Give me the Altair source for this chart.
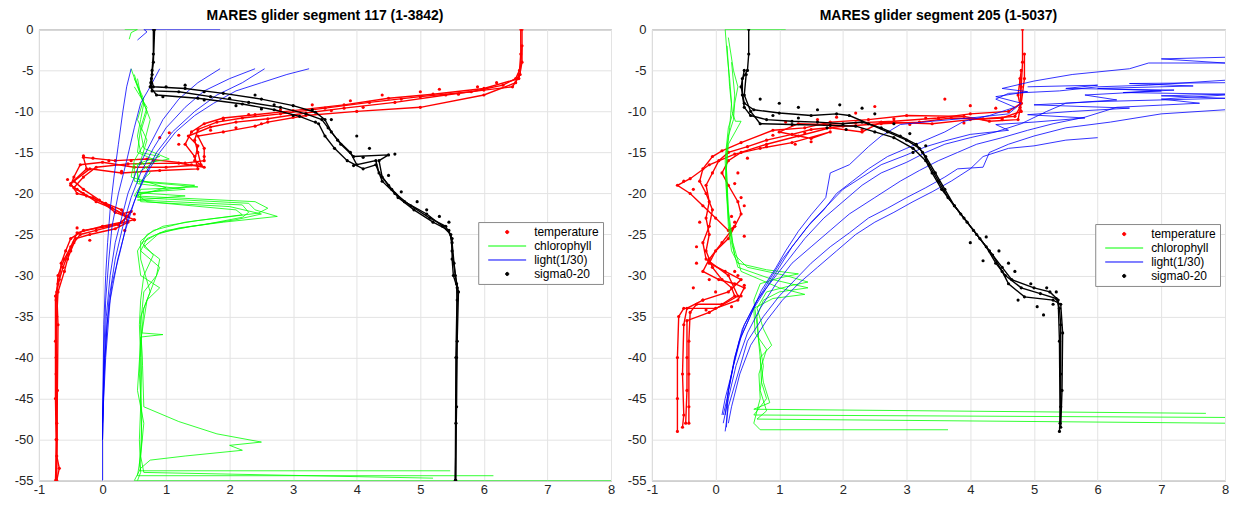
import altair as alt
import pandas as pd

TITLE_117 = "MARES glider segment 117 (1-3842)"
TITLE_205 = "MARES glider segment 205 (1-5037)"
SERIES = ["temperature", "chlorophyll", "light(1/30)", "sigma0-20"]
COLORS = ["#ff0000", "#00ff00", "#0000ff", "#000000"]
X_TICKS = [-1, 0, 1, 2, 3, 4, 5, 6, 7, 8]
Y_TICKS = [0, -5, -10, -15, -20, -25, -30, -35, -40, -45, -50, -55]

# ---------------- segment 117 : (x value, depth) per profile ----------------
TEMP_117_A = [(6.58, 0), (6.58, -3), (6.56, -5), (6.5, -6), (6.3, -6.8), (5.8, -7.6), (5.0, -8.2), (4.2, -8.9),
              (3.5, -9.6), (2.8, -10.3), (2.2, -10.8), (1.8, -11.3), (1.5, -12.2), (1.45, -13.5), (1.5, -15),
              (1.55, -16.5), (1.0, -16.8), (0.5, -16.8), (0.0, -16.2), (-0.35, -16.5), (-0.45, -18), (-0.5, -19),
              (-0.3, -20), (-0.1, -21), (0.15, -21.8), (0.4, -22.8), (0.25, -23.8), (-0.1, -24.5), (-0.35, -25),
              (-0.45, -26), (-0.55, -27.5), (-0.62, -29), (-0.7, -31), (-0.73, -33), (-0.73, -40), (-0.72, -48),
              (-0.72, -52), (-0.68, -53.5), (-0.72, -55)]
TEMP_117_B = [(6.6, 0), (6.6, -4), (6.55, -6), (6.0, -7.2), (5.2, -7.9), (4.5, -8.4), (3.8, -9.2), (3.0, -9.9),
              (2.4, -10.4), (1.9, -10.8), (1.6, -11.5), (1.4, -12.5), (1.3, -14), (1.45, -15.5), (1.5, -17),
              (0.9, -17.2), (0.3, -17.5), (-0.2, -17), (-0.45, -18.5), (-0.3, -19.5), (-0.05, -20.8), (0.2, -22.3),
              (0.5, -23.2), (0.1, -24), (-0.3, -24.5), (-0.5, -25.5), (-0.58, -27), (-0.65, -28.5), (-0.68, -30.5),
              (-0.74, -32.5), (-0.74, -38), (-0.74, -45), (-0.73, -50), (-0.73, -55)]
TEMP_117_C = [(6.55, -5.5), (6.5, -6.5), (6.0, -8), (5.0, -9.5), (4.0, -10), (3.2, -10.5), (2.6, -11.3), (2.4, -11.8),
              (1.9, -12.5), (1.5, -13), (1.6, -14.5), (1.6, -16), (1.3, -16.3), (0.7, -15.8), (0.2, -16),
              (-0.3, -15.6), (-0.25, -17), (-0.5, -18.8), (-0.4, -20), (-0.15, -20.5), (0.1, -21.5), (0.3, -22.5),
              (0.45, -22.2), (0.3, -23.5), (0.0, -24), (-0.4, -24.8), (-0.5, -26.5), (-0.6, -28), (-0.7, -30),
              (-0.72, -32), (-0.7, -36), (-0.71, -44), (-0.72, -55)]
TEMP_117_D = [(6.6, -2), (6.57, -5.5), (6.45, -7), (6.0, -7.4), (5.4, -8.0), (4.6, -8.9), (3.8, -9.6), (3.2, -10.2),
              (2.6, -10.9), (2.1, -11.3), (1.7, -11.9), (1.35, -13), (1.5, -14.2), (1.45, -16), (1.6, -16.8),
              (1.2, -16.3), (0.4, -16.4), (-0.1, -16.8), (-0.3, -18), (-0.45, -19.3), (-0.25, -20.3), (0.05, -21.2),
              (0.3, -22), (0.4, -23.5), (0.2, -24.3), (-0.2, -25), (-0.42, -25.5), (-0.5, -27), (-0.55, -28),
              (-0.6, -29.5), (-0.7, -32), (-0.72, -35), (-0.73, -42), (-0.72, -50), (-0.74, -55)]
TEMP_117_DOTS = [(6.2, -6.5), (5.9, -7.0), (5.6, -7.9), (5.3, -7.3), (5.0, -7.6), (4.7, -8.5), (4.4, -8.0),
                 (4.1, -9.5), (3.9, -8.7), (3.6, -9.9), (3.3, -9.2), (3.0, -10.7), (2.8, -9.8), (2.5, -11.5),
                 (2.3, -10.4), (2.1, -12.0), (1.9, -11.0), (1.7, -12.3), (1.2, -12.9), (1.05, -12.6), (0.9, -13.2),
                 (0.8, -16.0), (0.6, -16.3), (0.45, -16.0), (0.3, -17.3), (1.2, -14.0), (1.6, -15.5), (1.4, -16.5),
                 (-0.3, -15.4), (-0.15, -15.7), (0.1, -16.0), (-0.55, -18.3), (-0.4, -19.5), (0.5, -22.5),
                 (0.5, -23.2), (0.35, -24.5), (-0.2, -25.7), (-0.4, -24.2)]

SIG_117_A = [(0.8, 0), (0.8, -3), (0.78, -5), (0.76, -6.5), (0.78, -7.5), (1.2, -7.6), (1.7, -8.2), (2.3, -8.9),
             (2.8, -9.5), (3.2, -10.3), (3.45, -11), (3.55, -12), (3.7, -13.5), (3.9, -15), (4.0, -16.5),
             (4.3, -16), (4.35, -17.5), (4.5, -19), (4.65, -20.5), (4.9, -22), (5.2, -23.5), (5.45, -24.5),
             (5.5, -26), (5.53, -28.5), (5.57, -31), (5.58, -33), (5.57, -40), (5.56, -48), (5.56, -55)]
SIG_117_B = [(0.82, 0), (0.8, -4), (0.77, -6), (0.8, -7), (1.3, -7.2), (1.9, -7.8), (2.5, -8.5), (3.0, -9.3),
             (3.35, -10.1), (3.5, -11), (3.6, -12.5), (3.75, -14), (3.95, -15.5), (4.5, -15.3), (4.35, -16),
             (4.4, -18), (4.55, -19.5), (4.75, -21), (5.1, -22.5), (5.35, -24), (5.48, -25), (5.5, -27),
             (5.55, -30), (5.6, -32), (5.58, -38), (5.57, -46), (5.55, -55)]
SIG_117_C = [(0.78, -5.5), (0.75, -7), (0.85, -8), (1.5, -8.4), (2.2, -9.1), (2.7, -9.8), (3.1, -10.6),
             (3.4, -11.5), (3.5, -13), (3.65, -14.5), (3.85, -16), (4.1, -17), (4.3, -16.5), (4.4, -18.5),
             (4.6, -20), (4.85, -21.5), (5.15, -23), (5.4, -24), (5.5, -25.5), (5.5, -28), (5.52, -30),
             (5.58, -31.5), (5.56, -40), (5.55, -55)]
SIG_117_DOTS = [(1.0, -7.0), (1.3, -6.8), (1.6, -7.6), (2.0, -8.4), (2.4, -8.0), (2.7, -9.2), (3.0, -10.5),
                (3.3, -9.8), (3.6, -11.0), (4.0, -13.0), (4.2, -14.5), (4.6, -15.2), (4.1, -15.6), (3.95, -16.6),
                (4.5, -17.8), (4.7, -19.8), (4.95, -21.0), (5.1, -22.0), (5.3, -22.8), (5.45, -23.5),
                (0.95, -8.2), (1.6, -8.6), (2.1, -9.3), (2.5, -9.7), (3.35, -11.3)]

CHL_117_A = [(0.45, -4.8), (0.55, -7), (0.65, -9), (0.6, -11), (0.55, -13), (0.6, -15), (0.9, -15.5),
             (0.5, -16.5), (0.5, -18.5), (1.5, -19.2), (0.6, -19.5), (0.55, -20.5), (2.3, -21.2), (2.4, -22),
             (2.75, -22.8), (1.9, -23.5), (1.2, -24.2), (0.85, -25), (0.62, -26), (0.8, -27.5), (0.65, -30),
             (0.6, -33), (0.58, -36), (0.6, -40), (0.6, -45), (0.62, -50), (0.58, -53), (0.6, -53.8),
             (5.47, -53.8)]
CHL_117_B = [(0.5, -5.5), (0.6, -8), (0.7, -10), (0.6, -12.5), (0.65, -14.5), (1.05, -15.8), (0.55, -16.5),
             (0.55, -18.8), (1.3, -19.5), (0.55, -19.9), (1.3, -20.3), (0.55, -20.8), (2.2, -21.4), (2.3, -22.3),
             (2.2, -22.9), (1.6, -23.8), (1.0, -24.5), (0.7, -25.5), (0.6, -27), (0.9, -29), (0.8, -31),
             (0.65, -34), (0.62, -37), (0.95, -37.2), (0.6, -37.5), (0.58, -42), (0.62, -47), (0.6, -52),
             (0.55, -54.4), (6.15, -54.4)]
CHL_117_C = [(0.5, -6), (0.65, -8.5), (0.55, -11), (0.7, -13.5), (0.6, -16), (0.75, -17.5), (0.6, -18.5),
             (1.45, -19), (0.6, -20), (0.6, -21), (2.0, -21.6), (2.5, -22.5), (2.1, -23.2), (1.4, -24),
             (0.9, -24.8), (0.65, -26.5), (0.9, -28), (0.85, -30), (0.65, -32), (0.6, -36), (0.63, -41),
             (0.65, -46), (1.2, -47.8), (1.8, -49.3), (2.5, -50.3), (2.0, -50.7), (2.2, -51.3), (1.3, -52),
             (0.75, -52.5), (0.6, -53.5), (0.5, -55), (8.0, -55)]
CHL_117_D = [(0.5, -7), (0.7, -9.5), (0.6, -12), (0.55, -15), (0.85, -16), (0.55, -17.5), (0.6, -19),
             (0.5, -20.3), (2.4, -21), (2.6, -21.8), (2.45, -22.4), (1.5, -23.3), (0.95, -24), (0.7, -25),
             (0.55, -27), (0.6, -30), (0.9, -31.5), (0.7, -33), (0.6, -38), (0.55, -44), (0.65, -48),
             (0.6, -52), (0.65, -54), (5.2, -54.7)]
CHL_117_E = [(0.55, -6), (0.6, -8), (0.75, -11), (0.65, -14), (0.5, -16), (0.45, -18), (1.0, -19.3),
             (0.55, -20.2), (0.7, -21), (2.1, -22), (2.2, -22.6), (1.3, -23.5), (0.8, -24.5), (0.6, -25.8),
             (0.6, -28), (0.75, -32), (0.6, -35), (0.62, -40), (0.6, -46), (0.58, -50), (0.6, -54), (0.55, -55)]
CHL_117_F = [(0.35, 0), (0.55, 0), (0.45, -0.4), (0.42, -1.2)]

LIGHT_117_A = [(0.45, -4.8), (0.38, -7), (0.32, -10), (0.25, -14), (0.18, -18), (0.12, -22), (0.08, -26),
               (0.05, -30), (0.02, -36), (0.01, -42), (0.0, -48), (0.0, -55)]
LIGHT_117_B = [(0.9, -4.8), (0.75, -7), (0.6, -9), (0.5, -12), (0.38, -16), (0.25, -20), (0.15, -24),
               (0.1, -28), (0.05, -33), (0.02, -40), (0.0, -50)]
LIGHT_117_C = [(1.85, -4.8), (1.5, -6.5), (1.2, -8.5), (0.95, -11), (0.75, -14), (0.55, -17), (0.4, -20),
               (0.3, -23), (0.2, -26), (0.12, -30), (0.06, -35), (0.02, -42), (0.0, -50)]
LIGHT_117_D = [(2.4, -4.8), (2.0, -6), (1.6, -7.5), (1.3, -9.5), (1.0, -12), (0.8, -14.5), (0.6, -17.5),
               (0.45, -20.5), (0.32, -24), (0.2, -28), (0.1, -33), (0.04, -40), (0.0, -48)]
LIGHT_117_E = [(2.55, -4.8), (2.2, -6.5), (1.8, -8), (1.45, -10), (1.1, -12.5), (0.85, -15), (0.65, -18),
               (0.5, -21), (0.36, -24.5), (0.24, -28), (0.12, -33), (0.05, -40), (0.0, -48)]
LIGHT_117_F = [(3.25, -4.8), (2.9, -5.5), (2.5, -6.5), (2.1, -7.5), (1.75, -9), (1.45, -10.5), (1.15, -12.5),
               (0.9, -15), (0.7, -17.5), (0.55, -20), (0.4, -23), (0.28, -27), (0.15, -31), (0.07, -36),
               (0.02, -42), (0.0, -50)]
LIGHT_117_G = [(0.55, -1.3), (0.7, -0.3), (0.65, 0), (1.85, 0)]

# ---------------- segment 205 ----------------
TEMP_205_A = [(4.82, 0), (4.82, -4), (4.8, -7), (4.78, -9.5), (4.7, -10.6), (4.2, -10.9), (3.7, -10.8),
              (3.2, -11.3), (2.6, -11.5), (2.0, -11.8), (1.5, -12.2), (1.2, -12.8), (0.8, -13.5), (0.5, -14.3),
              (0.2, -15), (0.05, -16), (-0.05, -17.5), (-0.15, -19), (-0.1, -21), (-0.15, -23), (-0.1, -25),
              (-0.15, -27), (-0.05, -29), (0.1, -30.5), (0.25, -31.5), (0.3, -32.5), (0.1, -33.5), (-0.3, -33.5),
              (-0.4, -34.5), (-0.42, -38), (-0.42, -42), (-0.42, -46), (-0.42, -48)]
TEMP_205_B = [(4.85, -3), (4.85, -6), (4.8, -9), (4.6, -10), (4.0, -10.3), (3.5, -10.8), (2.8, -11.2),
              (2.2, -11.4), (1.7, -11.6), (1.3, -11.5), (1.0, -12.5), (1.5, -13.3), (1.8, -12.5), (1.2, -13.8),
              (0.7, -14.5), (0.3, -15.2), (-0.1, -16.5), (-0.4, -18.2), (-0.6, -19), (-0.4, -20), (-0.2, -21.5),
              (0.0, -23), (0.2, -24.5), (0.3, -24), (0.1, -26), (-0.1, -28), (-0.2, -29.5), (0.05, -30.5),
              (0.3, -31), (0.45, -31.5), (0.35, -33), (0.0, -34), (-0.5, -34), (-0.58, -35), (-0.6, -40),
              (-0.6, -45), (-0.6, -49)]
TEMP_205_C = [(4.8, -5), (4.75, -8), (4.8, -10), (4.5, -10.8), (4.0, -11), (3.4, -11.5), (2.6, -11.3),
              (2.3, -12.5), (1.8, -12), (1.3, -13), (0.8, -14), (0.4, -15), (0.2, -16), (0.1, -17.5), (0.2, -19),
              (0.35, -21), (0.4, -22.5), (0.3, -24), (0.2, -25.5), (0.0, -27), (-0.1, -28.5), (0.15, -29.5),
              (0.4, -30.5), (0.2, -32), (-0.2, -33), (-0.45, -34), (-0.5, -36), (-0.52, -42), (-0.5, -47),
              (-0.52, -48.5)]
TEMP_205_D = [(4.78, -6), (4.8, -9), (4.75, -11), (4.3, -11.2), (3.9, -10.6), (3.0, -10.5), (2.4, -11),
              (1.8, -11.3), (1.4, -12), (0.9, -12.3), (0.4, -13.8), (0.1, -14.8), (-0.05, -15.5), (-0.2, -17),
              (-0.25, -18.5), (-0.15, -20), (-0.05, -22), (-0.1, -24), (-0.2, -26), (-0.15, -28), (0.2, -30),
              (0.35, -32.5), (-0.1, -34.5), (-0.45, -35.5), (-0.45, -40), (-0.45, -44), (-0.47, -48)]
TEMP_205_DOTS = [(4.4, -9.6), (4.0, -9.3), (3.6, -8.5), (3.3, -10.8), (3.05, -11.6), (2.5, -9.4), (2.2, -10.2),
                 (1.9, -10.7), (1.6, -11.0), (1.4, -12.6), (1.1, -11.3), (0.9, -12.9), (1.5, -13.7), (1.25, -14.0),
                 (0.8, -14.3), (0.5, -15.7), (0.35, -17.5), (0.3, -18.8), (-0.35, -19.5), (-0.5, -18.5),
                 (0.4, -20.5), (0.45, -21.5), (0.25, -22.8), (0.3, -23.5), (0.45, -25.2), (-0.25, -23.5),
                 (-0.3, -26.5), (-0.3, -28.5), (0.3, -29.5), (0.4, -32.5), (0.25, -33.8), (-0.15, -34.2),
                 (-0.2, -33.0), (0.0, -32.0), (-0.35, -31.5), (-0.1, -30.5), (0.35, -30.0), (0.45, -31.2),
                 (2.8, -10.9), (3.9, -11.4), (4.5, -11.0), (2.3, -12.2)]

SIG_205_A = [(0.52, 0), (0.52, -3), (0.5, -5), (0.42, -6), (0.42, -8), (0.45, -9.5), (0.55, -10.5), (0.8, -11),
             (1.2, -11.2), (1.6, -11.3), (2.0, -11.5), (2.3, -11.3), (2.6, -12), (2.9, -13), (3.15, -14),
             (3.25, -15), (3.35, -16.5), (3.5, -18.5), (3.65, -20.5), (3.85, -22.5), (4.05, -24.5), (4.25, -26.5),
             (4.4, -28.5), (4.55, -30), (4.8, -31.5), (5.1, -32.2), (5.35, -32.8), (5.4, -34), (5.42, -36),
             (5.42, -42), (5.42, -46), (5.4, -49)]
SIG_205_B = [(0.45, -5), (0.4, -7), (0.45, -9), (0.6, -9.8), (1.0, -10.2), (1.5, -10.5), (1.9, -10.3),
             (2.1, -10.5), (2.4, -11.5), (2.7, -12.5), (3.0, -13.5), (3.2, -14.5), (3.3, -15.5), (3.45, -17.5),
             (3.6, -19.5), (3.75, -21.5), (3.95, -23.5), (4.15, -25.5), (4.35, -27.5), (4.5, -29.5), (4.6, -31),
             (4.85, -32.6), (5.3, -33), (5.42, -33.5), (5.45, -37), (5.44, -44), (5.42, -48.5)]
SIG_205_C = [(0.48, -5.5), (0.45, -8), (0.55, -10), (0.7, -11.5), (1.2, -11.6), (1.8, -11.7), (2.2, -11.8),
             (2.5, -12.5), (2.8, -13.2), (3.1, -14.5), (3.3, -16), (3.4, -17.5), (3.55, -19.5), (3.75, -21.5),
             (3.9, -23), (4.1, -25), (4.3, -27), (4.5, -29), (4.65, -30.5), (5.0, -31.5), (5.25, -32),
             (5.38, -33), (5.4, -38), (5.41, -48)]
SIG_205_DOTS = [(0.7, -8.5), (1.0, -9.0), (1.3, -9.5), (1.6, -9.8), (1.95, -9.2), (2.3, -9.6), (2.5, -10.3),
                (2.8, -11.5), (3.05, -12.7), (0.9, -10.5), (1.3, -10.8), (1.75, -12.0), (2.05, -12.2),
                (3.3, -14.2), (3.1, -15.0), (4.25, -25.3), (4.45, -27.0), (4.6, -28.5), (4.7, -29.5),
                (4.0, -26.0), (4.2, -28.2), (4.95, -31.0), (5.2, -31.5), (5.3, -33.5), (4.75, -33.0),
                (5.05, -33.8), (5.15, -34.8), (5.35, -32.0)]

CHL_205_A = [(0.15, 0), (0.18, -3), (0.22, -6), (0.25, -9), (0.22, -12), (0.18, -15), (0.16, -18), (0.18, -21),
             (0.2, -24), (0.25, -27), (0.35, -28.5), (0.8, -29.3), (1.3, -29.8), (1.0, -30.3), (0.7, -31),
             (0.6, -33), (0.65, -36), (0.7, -40), (0.75, -43), (0.85, -45.5), (0.6, -46.3), (7.7, -46.8)]
CHL_205_B = [(0.2, -1), (0.28, -5), (0.35, -7), (0.3, -9), (0.28, -11), (0.2, -13), (0.15, -16), (0.17, -20),
             (0.22, -24), (0.3, -27.5), (0.5, -29), (1.1, -30), (1.45, -30.8), (1.2, -31.2), (0.8, -32),
             (0.65, -34), (0.75, -36.5), (0.88, -38.5), (0.7, -40), (0.72, -43), (0.8, -45), (0.6, -47),
             (8.0, -47.3)]
CHL_205_C = [(0.25, -4), (0.3, -8), (0.28, -10), (0.2, -12), (0.16, -15), (0.18, -19), (0.2, -23), (0.25, -26),
             (0.35, -29), (0.9, -30.5), (1.45, -31.5), (1.0, -32), (0.75, -33), (0.65, -35), (0.68, -38),
             (0.75, -41), (0.7, -44), (0.8, -46.5), (0.65, -47.5), (8.0, -48)]
CHL_205_D = [(0.18, -2), (0.22, -7), (0.26, -10), (0.31, -11.2), (0.4, -11.2), (0.2, -14), (0.17, -17),
             (0.2, -22), (0.27, -26), (0.4, -29.5), (1.0, -31.5), (1.4, -32.3), (0.9, -32.8), (0.6, -34),
             (0.62, -37), (0.8, -39), (0.68, -42), (0.7, -45), (0.6, -48), (0.7, -48.8), (3.65, -48.8)]
CHL_205_E = [(0.15, 0), (1.1, 0)]

LIGHT_205_A = [(8.0, -3.4), (7.0, -3.6), (8.0, -4.1), (6.8, -4.1), (6.5, -4.8), (5.6, -5.5), (5.0, -6.3),
               (4.5, -7.2), (4.9, -7.6), (4.4, -8.2), (4.8, -9.0), (4.6, -10.3), (4.0, -10.8), (3.4, -11.2),
               (2.9, -11.6), (2.6, -13), (2.4, -14.3), (2.1, -16.5), (1.8, -17.5), (1.73, -20.5), (1.5, -22.6),
               (1.3, -24.6), (1.1, -27), (0.95, -29), (0.72, -31.8), (0.54, -35), (0.37, -38), (0.25, -42),
               (0.15, -45), (0.1, -47)]
LIGHT_205_B = [(8.0, -6.5), (6.5, -6.6), (7.5, -6.9), (6.0, -7.2), (7.0, -7.5), (5.8, -8.0), (6.3, -8.6),
               (5.5, -9.0), (5.2, -10), (4.8, -11.5), (4.4, -12.5), (4.0, -13.2), (3.6, -14), (3.3, -15),
               (3.0, -16.2), (2.6, -17.5), (2.3, -19), (2.0, -21), (1.7, -23), (1.4, -25.5), (1.15, -28),
               (0.9, -30.5), (0.65, -33), (0.45, -36), (0.3, -40), (0.2, -44), (0.15, -47)]
LIGHT_205_C = [(8.0, -8.0), (7.0, -8.5), (7.6, -9.0), (6.3, -9.5), (5.8, -10.7), (5.3, -11.5), (4.9, -12.3),
               (4.5, -13.2), (4.1, -14), (3.8, -15), (3.5, -16), (3.2, -17.2), (2.9, -18.5), (2.5, -20.5),
               (2.1, -22.5), (1.8, -24.5), (1.5, -26.5), (1.2, -28.5), (0.95, -31), (0.7, -34), (0.5, -37),
               (0.32, -41), (0.2, -45), (0.12, -48)]
LIGHT_205_D = [(8.0, -9.8), (7.0, -10.3), (6.2, -11.3), (5.5, -12), (5.0, -13), (4.6, -14), (4.3, -15),
               (4.2, -16.8), (3.8, -17), (3.6, -18), (3.3, -19.3), (3.0, -20.5), (2.7, -21.8), (2.4, -23),
               (2.1, -24.8), (1.8, -26.5), (1.5, -28.5), (1.25, -30.5), (1.0, -32.5), (0.75, -35), (0.5, -38),
               (0.35, -42), (0.2, -46), (0.15, -49)]
LIGHT_205_E = [(6.0, -13.2), (5.5, -13.5), (5.0, -14.2), (4.6, -14.5), (4.2, -15.5), (4.0, -17), (3.7, -18.5),
               (3.4, -19.8), (3.1, -21), (2.8, -22.3), (2.5, -23.5), (2.2, -25), (1.9, -27), (1.6, -29),
               (1.3, -31), (1.05, -33), (0.8, -35.5), (0.55, -38.5), (0.38, -42), (0.25, -46), (0.2, -48)]
LIGHT_205_F = [(8.0, -6.2), (6.8, -6.8), (6.0, -7.0), (5.4, -7.5), (4.6, -7.8), (4.4, -8.5), (4.7, -9.5),
               (4.3, -10.5), (3.9, -11.2), (3.6, -12.5), (3.3, -13.5), (3.0, -14.5), (2.7, -15.5), (2.4, -17),
               (2.15, -18.5), (1.9, -20), (1.7, -22), (1.45, -24), (1.2, -26.5), (1.0, -29), (0.8, -31.5),
               (0.6, -34), (0.4, -37.5), (0.28, -41), (0.18, -45), (0.12, -47)]
LIGHT_205_G = [(4.9, -7.0), (6.0, -6.8), (5.5, -7.2), (7.2, -7.4), (6.4, -7.7), (8.0, -7.9), (7.0, -8.1),
               (8.0, -8.4), (6.0, -8.8), (5.0, -9.2), (6.5, -9.6), (5.6, -10.0), (4.9, -10.4), (5.8, -10.8),
               (5.0, -11.3), (4.4, -11.6), (4.6, -12.3), (4.0, -12.8), (3.6, -13.6), (3.3, -14.3), (3.0, -15.3),
               (2.6, -16.5), (2.3, -18), (2.0, -19.5), (1.75, -21.5), (1.5, -23.5), (1.25, -26), (1.05, -28),
               (0.85, -30.5), (0.62, -33.5), (0.42, -36.5), (0.3, -40), (0.2, -44), (0.17, -48.5)]

DOT_PATH = "M8.7,0A0.8,0.8,0,1,0,10.3,0A0.8,0.8,0,1,0,8.7,0Z"
LINE_PATH = "M0,0H19"
SHAPES = [DOT_PATH, LINE_PATH, LINE_PATH, DOT_PATH]

FONT = "Liberation Sans"


def rows(var, profiles, kind="line"):
    out = []
    for p, prof in enumerate(profiles):
        for i, (x, y) in enumerate(prof):
            out.append({"var": var, "kind": kind, "prof": f"{var}-{kind}-{p}", "i": i, "x": x, "y": y})
    return out


def panel(temp, temp_dots, chl, light, sig, sig_dots, title, w, h, lx, ly):
    df = pd.DataFrame(rows("temperature", temp) + rows("temperature", [temp_dots], "dots")
                      + rows("chlorophyll", chl) + rows("light(1/30)", light)
                      + rows("sigma0-20", sig) + rows("sigma0-20", [sig_dots], "dots"))
    xaxis = alt.Axis(values=X_TICKS, title=None, grid=True, gridColor="#e3e3e3", gridWidth=1,
                     domain=False, ticks=False, labelExpr="'' + datum.value", labelFont=FONT,
                     labelFontSize=13, labelColor="#262626", labelPadding=3, labelFlush=False,
                     labelOverlap=False)
    yaxis = alt.Axis(values=Y_TICKS, title=None, grid=True, gridColor="#e3e3e3", gridWidth=1,
                     domain=False, ticks=False, labelExpr="'' + datum.value", labelFont=FONT,
                     labelFontSize=13, labelColor="#262626", labelPadding=6, labelFlush=False,
                     labelOverlap=False, minExtent=30, maxExtent=30)
    base = alt.Chart(df).encode(
        x=alt.X("x:Q", scale=alt.Scale(domain=[-1, 8], nice=False, zero=False), axis=xaxis),
        y=alt.Y("y:Q", scale=alt.Scale(domain=[-55, 0], nice=False, zero=False), axis=yaxis),
        detail="prof:N",
        order="i:Q",
    )

    def sel(v, lines_only=False):
        c = base.transform_filter(alt.datum.var == v)
        if lines_only:
            c = c.transform_filter(alt.datum.kind == "line")
        return c

    t_line = sel("temperature", True).mark_line(color=COLORS[0], strokeWidth=1.4, clip=True)
    t_pts = sel("temperature").mark_circle(color=COLORS[0], size=10, opacity=1, clip=True)
    c_line = sel("chlorophyll").mark_line(color=COLORS[1], strokeWidth=0.8, clip=True)
    l_line = sel("light(1/30)").mark_line(color=COLORS[2], strokeWidth=0.8, clip=True)
    s_line = sel("sigma0-20", True).mark_line(color=COLORS[3], strokeWidth=1.4, clip=True)
    s_pts = sel("sigma0-20").mark_circle(color=COLORS[3], size=10, opacity=1, clip=True)

    legend = alt.Legend(orient="none", legendX=lx, legendY=ly, title=None, labelFont=FONT,
                        labelFontSize=12, labelColor="#000000", fillColor="#ffffff",
                        strokeColor="#8a8a8a", padding=4, rowPadding=2, labelOffset=40,
                        symbolSize=16, symbolStrokeWidth=1, cornerRadius=0)
    leg_df = pd.DataFrame({"var": SERIES})
    leg = alt.Chart(leg_df).transform_filter("false").mark_point(filled=False, opacity=1).encode(
        color=alt.Color("var:N", scale=alt.Scale(domain=SERIES, range=COLORS), legend=legend),
        fill=alt.Fill("var:N", scale=alt.Scale(domain=SERIES, range=COLORS), legend=legend),
        shape=alt.Shape("var:N", scale=alt.Scale(domain=SERIES, range=SHAPES), legend=legend),
    )
    return alt.layer(t_line, t_pts, c_line, l_line, s_line, s_pts, leg).properties(
        width=w, height=h,
        title=alt.TitleParams(title, font=FONT, fontSize=14, fontWeight="bold", color="#000000",
                              anchor="middle", offset=0, frame="group"),
    )


left = panel([TEMP_117_A, TEMP_117_B, TEMP_117_C, TEMP_117_D], TEMP_117_DOTS,
             [CHL_117_A, CHL_117_B, CHL_117_C, CHL_117_D, CHL_117_E, CHL_117_F],
             [LIGHT_117_A, LIGHT_117_B, LIGHT_117_C, LIGHT_117_D, LIGHT_117_E, LIGHT_117_F, LIGHT_117_G],
             [SIG_117_A, SIG_117_B, SIG_117_C], SIG_117_DOTS,
             TITLE_117, 573, 452, 440, 193)
right = panel([TEMP_205_A, TEMP_205_B, TEMP_205_C, TEMP_205_D], TEMP_205_DOTS,
              [CHL_205_A, CHL_205_B, CHL_205_C, CHL_205_D, CHL_205_E],
              [LIGHT_205_A, LIGHT_205_B, LIGHT_205_C, LIGHT_205_D, LIGHT_205_E, LIGHT_205_F, LIGHT_205_G],
              [SIG_205_A, SIG_205_B, SIG_205_C], SIG_205_DOTS,
              TITLE_205, 574, 452, 444, 195)

chart = alt.hconcat(left, right, spacing=5).resolve_scale(
    color="independent", fill="independent", shape="independent"
).resolve_legend(
    color="independent", fill="independent", shape="independent"
).properties(
    padding={"left": 0, "top": 0, "right": 0, "bottom": 0}
).configure_view(stroke="#808080", strokeWidth=1)

chart.save("out.html", embed_options={"renderer": "svg", "actions": False})
